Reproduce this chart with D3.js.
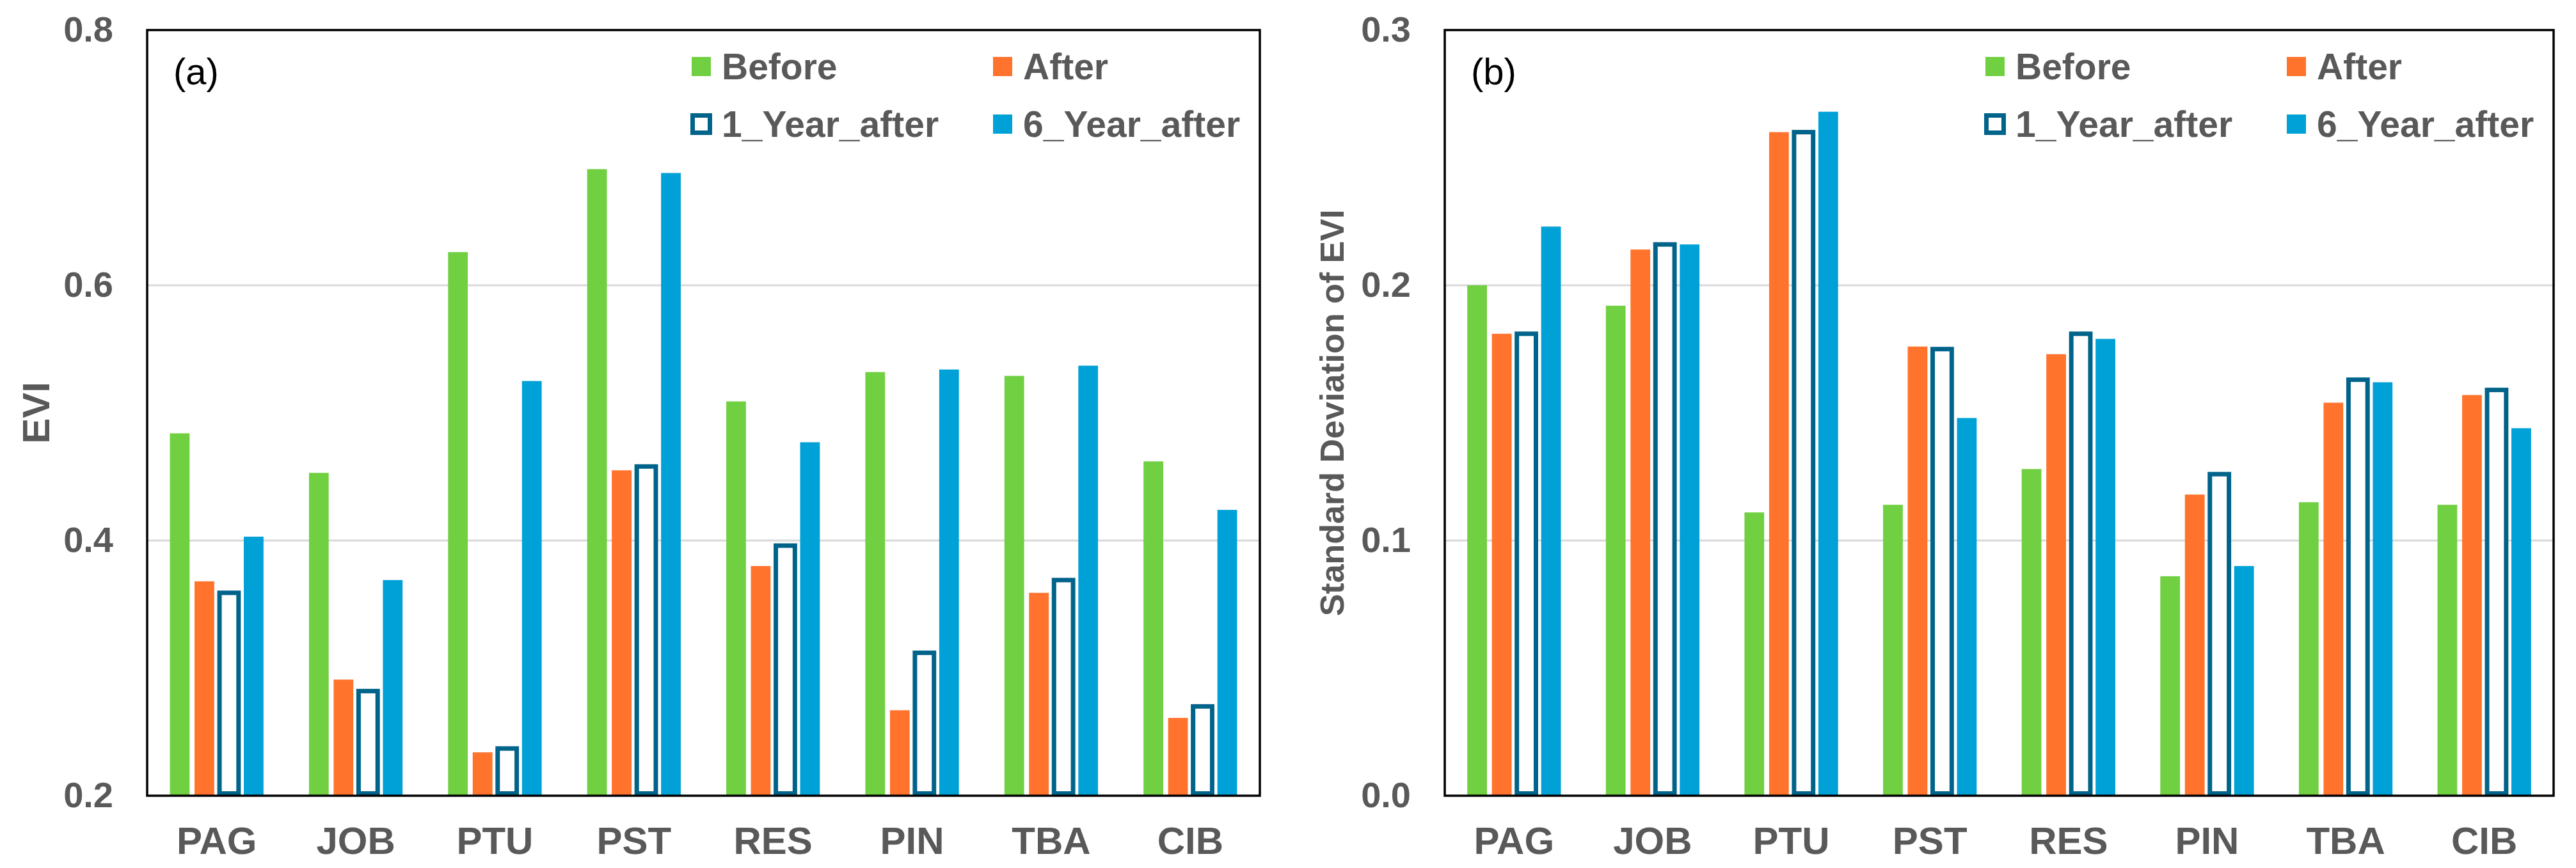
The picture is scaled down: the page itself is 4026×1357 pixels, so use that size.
<!DOCTYPE html>
<html>
<head>
<meta charset="utf-8">
<script src="https://cdn.jsdelivr.net/npm/d3@7"></script>
<style>
  body { margin: 0; background: #fff; }
  text { font-family: "Liberation Sans", Arial, sans-serif; }
</style>
</head>
<body>
<svg id="chart" width="4026" height="1357"></svg>
<script>
var categories = ['PAG', 'JOB', 'PTU', 'PST', 'RES', 'PIN', 'TBA', 'CIB'];
var seriesNames = ['Before', 'After', '1_Year_after', '6_Year_after'];

// panel (a): EVI
var eviBefore = [0.484, 0.453, 0.626, 0.691, 0.509, 0.532, 0.529, 0.462];
var eviAfter = [0.368, 0.291, 0.234, 0.455, 0.380, 0.267, 0.359, 0.261];
var evi1Year = [0.359, 0.282, 0.237, 0.458, 0.396, 0.312, 0.369, 0.270];
var evi6Year = [0.403, 0.369, 0.525, 0.688, 0.477, 0.534, 0.537, 0.424];
var eviTicks = [0.2, 0.4, 0.6, 0.8];

// panel (b): standard deviation of EVI
var sdBefore = [0.200, 0.192, 0.111, 0.114, 0.128, 0.086, 0.115, 0.114];
var sdAfter = [0.181, 0.214, 0.260, 0.176, 0.173, 0.118, 0.154, 0.157];
var sd1Year = [0.181, 0.216, 0.260, 0.175, 0.181, 0.126, 0.163, 0.159];
var sd6Year = [0.223, 0.216, 0.268, 0.148, 0.179, 0.090, 0.162, 0.144];
var sdTicks = [0.0, 0.1, 0.2, 0.3];

var GREEN = '#70D041';
var ORANGE = '#FF732D';
var BLUE = '#00A1D7';
var OUTLINE = '#00638A';
var GRAY = '#595959';
var STROKE_W = 7;

var svg = d3.select('#chart');
svg.append('rect').attr('width', 4026).attr('height', 1357).attr('fill', '#fff');

function drawPanel (opt) {
  var left = opt.left, right = opt.right, top = 47, bottom = 1244;
  var g = svg.append('g');

  var y = d3.scaleLinear().domain([opt.ticks[0], opt.ticks[opt.ticks.length - 1]]).range([bottom, top]);
  var x0 = d3.scaleBand().domain(categories).range([left, right]).padding(0);
  var half = 77;
  var x1 = d3.scaleBand().domain(seriesNames)
    .range([x0.bandwidth() / 2 - half, x0.bandwidth() / 2 + half])
    .paddingInner(0.2).paddingOuter(0.1);

  // gridlines
  g.selectAll('.grid')
    .data(opt.ticks.slice(1, -1))
    .enter().append('line')
    .attr('x1', left).attr('x2', right)
    .attr('y1', function (d) { return y(d); })
    .attr('y2', function (d) { return y(d); })
    .attr('stroke', '#D9D9D9').attr('stroke-width', 3);

  var rows = categories.map(function (c, i) {
    return { cat: c, vals: opt.series.map(function (s) { return s[i]; }) };
  });

  var groups = g.selectAll('.grp')
    .data(rows)
    .enter().append('g')
    .attr('transform', function (d) { return 'translate(' + x0(d.cat) + ',0)'; });

  groups.selectAll('rect')
    .data(function (d) {
      return d.vals.map(function (v, k) { return { name: seriesNames[k], v: v }; });
    })
    .enter().append('rect')
    .each(function (d) {
      var r = d3.select(this);
      var bw = x1.bandwidth();
      if (d.name === '1_Year_after') {
        var yt = y(d.v);
        r.attr('x', x1(d.name) + 0.5)
          .attr('width', bw - 1)
          .attr('y', yt)
          .attr('height', bottom - STROKE_W / 2 - yt)
          .attr('fill', '#fff')
          .attr('stroke', OUTLINE)
          .attr('stroke-width', STROKE_W);
      } else {
        r.attr('x', x1(d.name))
          .attr('width', bw)
          .attr('y', y(d.v))
          .attr('height', bottom - y(d.v))
          .attr('fill', d.name === 'Before' ? GREEN : d.name === 'After' ? ORANGE : BLUE);
      }
    });

  // frame
  g.append('rect')
    .attr('x', left).attr('y', top)
    .attr('width', right - left).attr('height', bottom - top)
    .attr('fill', 'none').attr('stroke', '#000').attr('stroke-width', 3.5);

  // y axis
  var ya = g.append('g')
    .attr('transform', 'translate(' + left + ',0)')
    .call(d3.axisLeft(y).tickValues(opt.ticks).tickSize(0).tickPadding(53).tickFormat(d3.format('.1f')));
  ya.select('.domain').remove();
  ya.selectAll('text')
    .attr('font-size', 56).attr('font-weight', 'bold').attr('fill', GRAY)
    .style('font-family', '"Liberation Sans", Arial, sans-serif');

  // x axis
  var xa = g.append('g')
    .attr('transform', 'translate(0,' + bottom + ')')
    .call(d3.axisBottom(x0).tickSize(0).tickPadding(48));
  xa.select('.domain').remove();
  xa.selectAll('text')
    .attr('font-size', 60).attr('font-weight', 'bold').attr('fill', GRAY)
    .style('font-family', '"Liberation Sans", Arial, sans-serif');

  // y axis title
  g.append('text')
    .attr('transform', 'translate(' + opt.titleX + ',' + ((top + bottom) / 2) + ') rotate(-90)')
    .attr('text-anchor', 'middle')
    .attr('dy', '0.36em')
    .attr('font-size', opt.titleSize).attr('font-weight', 'bold').attr('fill', GRAY)
    .text(opt.title);

  // panel letter
  g.append('text')
    .attr('x', left + 41).attr('y', 132)
    .attr('font-size', 58).attr('fill', '#000')
    .text(opt.letter);

  // legend
  var legendItems = [
    { name: 'Before', x: right - 888, row: 0, fill: GREEN },
    { name: 'After', x: right - 417, row: 0, fill: ORANGE },
    { name: '1_Year_after', x: right - 888, row: 1, fill: 'none' },
    { name: '6_Year_after', x: right - 417, row: 1, fill: BLUE }
  ];
  var lg = g.selectAll('.leg')
    .data(legendItems)
    .enter().append('g')
    .attr('transform', function (d) { return 'translate(' + d.x + ',' + (104 + d.row * 90) + ')'; });
  lg.append('rect')
    .attr('x', function (d) { return d.fill === 'none' ? 1.5 : 0; })
    .attr('y', function (d) { return d.fill === 'none' ? -13.5 : -15; })
    .attr('width', function (d) { return d.fill === 'none' ? 27 : 30; })
    .attr('height', function (d) { return d.fill === 'none' ? 27 : 30; })
    .attr('fill', function (d) { return d.fill === 'none' ? '#fff' : d.fill; })
    .attr('stroke', function (d) { return d.fill === 'none' ? OUTLINE : null; })
    .attr('stroke-width', function (d) { return d.fill === 'none' ? STROKE_W : null; });
  lg.append('text')
    .attr('x', 47).attr('y', 20)
    .attr('font-size', 57).attr('font-weight', 'bold').attr('fill', GRAY)
    .text(function (d) { return d.name; });
}

drawPanel({
  left: 230, right: 1969,
  series: [eviBefore, eviAfter, evi1Year, evi6Year],
  ticks: eviTicks,
  title: 'EVI', titleX: 55, titleSize: 60,
  letter: '(a)'
});

drawPanel({
  left: 2258, right: 3991,
  series: [sdBefore, sdAfter, sd1Year, sd6Year],
  ticks: sdTicks,
  title: 'Standard Deviation of EVI', titleX: 2081, titleSize: 52,
  letter: '(b)'
});
</script>
</body>
</html>
